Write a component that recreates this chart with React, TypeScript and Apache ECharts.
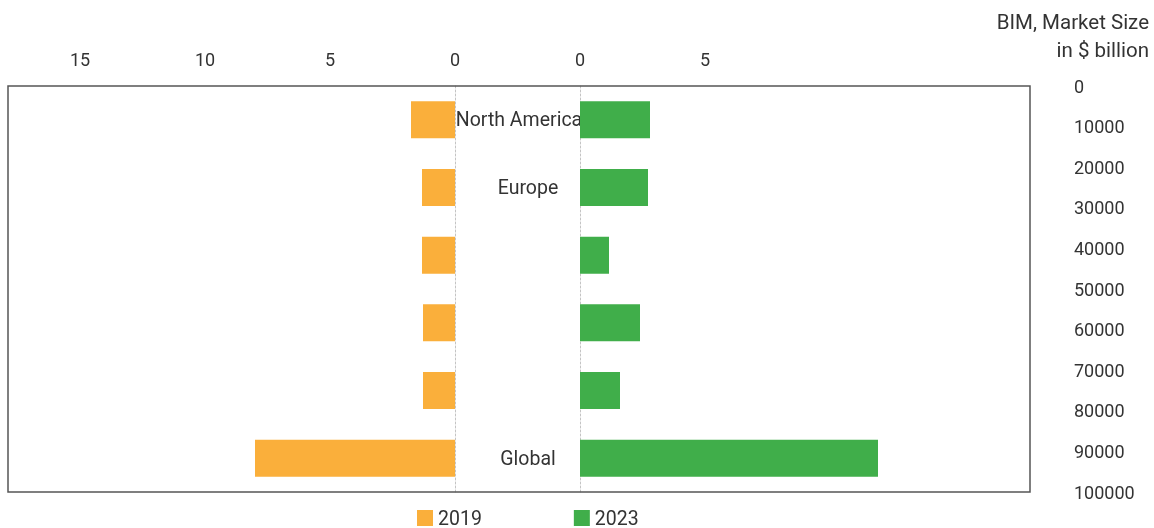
import React, { useEffect, useRef } from "react";
import * as echarts from "echarts";

const categories = ["North America", "Europe", "", "", "", "Global"];
const values2019 = [1.76, 1.32, 1.32, 1.28, 1.28, 8.0];
const values2023 = [2.8, 2.72, 1.16, 2.4, 1.6, 11.92];
const leftTicks = [0, 5, 10, 15];
const rightTicks = [0, 5];
const seriesNames = ["2019", "2023"];
const colors = ["#FAAF3B", "#40AE4A"];

const FONT = "Roboto, 'DejaVu Sans', sans-serif";
const TEXT = "#333";

export default function App() {
  const ref = useRef<HTMLDivElement>(null);
  useEffect(() => {
    if (!ref.current) return;
    const chart = echarts.init(ref.current, undefined, { renderer: "svg" });
    chart.setOption({
      animation: false,
      textStyle: { fontFamily: FONT, color: TEXT },
      legend: {
        data: seriesNames,
        top: 508,
        left: 417,
        itemWidth: 16,
        itemHeight: 16,
        itemGap: 92,
        padding: 0,
        icon: "rect",
        textStyle: { fontFamily: FONT, fontSize: 19.5, color: TEXT },
      },
      grid: [
        { left: 8, width: 447, top: 86, height: 406, show: false },
        { left: 580, width: 450, top: 86, height: 406, show: false },
      ],
      xAxis: [
        {
          gridIndex: 0,
          type: "value",
          position: "top",
          inverse: true,
          min: 0,
          max: 17.88,
          interval: 5,
          axisLine: { show: false },
          axisTick: { show: false },
          splitLine: { show: false },
          axisLabel: {
            margin: 18,
            fontSize: 18,
            color: TEXT,
            fontFamily: FONT,
            formatter: (v: number) => (leftTicks.includes(v) ? String(v) : ""),
          },
        },
        {
          gridIndex: 1,
          type: "value",
          position: "top",
          min: 0,
          max: 18,
          interval: 5,
          axisLine: { show: false },
          axisTick: { show: false },
          splitLine: { show: false },
          axisLabel: {
            margin: 18,
            fontSize: 18,
            color: TEXT,
            fontFamily: FONT,
            formatter: (v: number) => (rightTicks.includes(v) ? String(v) : ""),
          },
        },
      ],
      yAxis: [
        {
          gridIndex: 0,
          type: "category",
          data: categories,
          inverse: true,
          position: "right",
          axisLine: { show: true, lineStyle: { color: "#c4c4c4", type: [2, 2], width: 1 } },
          axisTick: { show: false },
          axisLabel: { show: false },
        },
        {
          gridIndex: 1,
          type: "category",
          data: categories,
          inverse: true,
          position: "left",
          axisLine: { show: true, lineStyle: { color: "#c4c4c4", type: [2, 2], width: 1 } },
          axisTick: { show: false },
          axisLabel: {
            show: true,
            margin: 52,
            align: "center",
            fontSize: 19.5,
            color: TEXT,
            fontFamily: FONT,
            formatter: (v: string) =>
              v === "North America" ? "{na|" + v + "}" : v ? "{c|" + v + "}" : "",
            rich: {
              na: { fontSize: 19.5, color: TEXT, fontFamily: FONT, padding: [0, 18, 0, 0] },
              c: { fontSize: 19.5, color: TEXT, fontFamily: FONT },
            },
          },
        },
        {
          gridIndex: 1,
          type: "value",
          position: "right",
          inverse: true,
          min: 0,
          max: 100000,
          interval: 10000,
          axisLine: { show: false },
          axisTick: { show: false },
          splitLine: { show: false },
          axisLabel: {
            margin: 44,
            fontSize: 18,
            color: TEXT,
            fontFamily: FONT,
            align: "left",
            formatter: (v: number) => String(v),
          },
        },
      ],
      series: [
        {
          name: seriesNames[0],
          type: "bar",
          xAxisIndex: 0,
          yAxisIndex: 0,
          data: values2019,
          barWidth: 37,
          itemStyle: { color: colors[0] },
        },
        {
          name: seriesNames[1],
          type: "bar",
          xAxisIndex: 1,
          yAxisIndex: 1,
          data: values2023,
          barWidth: 37,
          itemStyle: { color: colors[1] },
        },
      ],
      graphic: [
        {
          type: "rect",
          shape: { x: 8, y: 86, width: 1022, height: 406 },
          style: { fill: "none", stroke: "#555", lineWidth: 1.5 },
          z: 10,
          silent: true,
        },
        {
          type: "text",
          x: 1149,
          y: 8,
          style: {
            text: "BIM, Market Size\nin $ billion",
            align: "right",
            verticalAlign: "top",
            lineHeight: 28,
            fontSize: 20.5,
            fontFamily: FONT,
            fill: TEXT,
          },
        },
      ],
    });
    return () => chart.dispose();
  }, []);
  return (
    <div
      ref={ref}
      style={{ position: "fixed", left: 0, top: 0, width: 1154, height: 528 }}
    />
  );
}
